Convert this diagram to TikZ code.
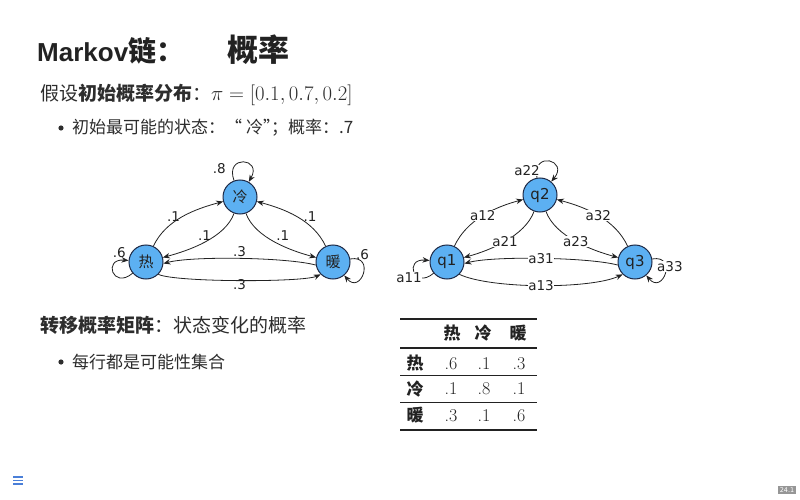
\documentclass[tikz,border=0pt]{standalone}
\usepackage{fontspec}
\usetikzlibrary{arrows.meta,positioning}
\newfontfamily\cjk{Noto Sans CJK SC}
\newfontfamily\lsans{Liberation Sans}
\newfontfamily\dvs{DejaVu Sans}
\definecolor{statefill}{RGB}{92,176,242}
\definecolor{stateline}{RGB}{30,42,70}
\definecolor{ink}{RGB}{34,34,34}
\definecolor{bodyink}{RGB}{45,45,45}
\definecolor{menublue}{RGB}{74,127,216}
\definecolor{pagegray}{RGB}{150,150,150}

\begin{document}
\begin{tikzpicture}[x=1pt,y=-1pt,
  chainstate/.style={circle, draw=stateline, line width=1pt, fill=statefill,
    minimum size=34pt, inner sep=0pt, text=ink, font=\cjk\fontsize{15}{15}\selectfont},
  qstate/.style={chainstate, font=\dvs\fontsize{15}{15}\selectfont},
  trans/.style={draw=ink, line width=0.8pt, -{Stealth[length=7pt,width=5.5pt]}},
  plab/.style={font=\dvs\fontsize{13.5}{14}\selectfont, inner sep=1pt, text=ink},
  alab/.style={plab, fill=white, inner sep=0.5pt},
  textline/.style={anchor=base west, inner sep=0pt, text=bodyink},
  hcell/.style={anchor=base, inner sep=0pt, text=ink, font=\cjk\bfseries\fontsize{17}{20}\selectfont},
  ncell/.style={anchor=base, inner sep=0pt, text=ink, font=\fontsize{18}{20}\selectfont},
  heavyrule/.style={draw=ink, line width=2pt},
  lightrule/.style={draw=ink, line width=0.8pt}
]
\useasboundingbox (0,0) rectangle (800,500);
\fill[white] (0,0) rectangle (800,500);

% headings and text lines
\node[textline, text=ink] (title) at (37,62)
  {\lsans\bfseries\fontsize{26}{30}\selectfont Markov\cjk\bfseries\fontsize{28}{30}\selectfont 链：};
\node[textline, text=ink] (title2) at (227,62) {\cjk\bfseries\fontsize{31}{31}\selectfont 概率};
\node[textline] (prior) at (40,101)
  {\cjk\fontsize{19}{22}\selectfont 假设{\bfseries 初始概率分布}：{\fontsize{21}{24}\selectfont$\pi=[0.1,0.7,0.2]$}};
\fill[bodyink] (61,128) circle (2.6);
\node[textline] (likely) at (72,133.5)
  {\cjk\fontsize{17}{20}\selectfont 初始最可能的状态：“\kern4pt 冷”\kern-9pt；概率：.7};
\node[textline] (matrix) at (40,332)
  {\cjk\fontsize{19}{22}\selectfont {\bfseries 转移概率矩阵}：状态变化的概率};
\fill[bodyink] (61,362) circle (2.6);
\node[textline] (rows) at (72,368.5)
  {\cjk\fontsize{17}{20}\selectfont 每行都是可能性集合};

% weather chain
\node[chainstate] (leng) at (240,197) {冷};
\node[chainstate] (re) at (146,262) {热};
\node[chainstate] (nuan) at (333,262) {暖};

\draw[trans] (re) to[out=65,in=195,looseness=0.9] node[plab,left=1pt] {.1} (leng);
\draw[trans] (leng) to[out=250,in=15,looseness=0.8] node[plab,above] {.1} (re);
\draw[trans] (leng) to[out=290,in=165,looseness=0.8] node[plab,above right=0pt] {.1} (nuan);
\draw[trans] (nuan) to[out=115,in=-15,looseness=0.9] node[plab,right=5pt] {.1} (leng);
\draw[trans] (nuan.190) to[out=165,in=15,looseness=0.5] node[plab,above] {.3} (re.-5);
\draw[trans] (re.-45) to[out=-25,in=-155,looseness=0.3] node[plab,below=-2pt] {.3} (nuan.-135);
\draw[trans] (leng) to[out=110,in=60,distance=28pt] node[plab,pos=0.2,left=6pt] {.8} (leng);
\draw[trans] (re) to[out=220,in=175,distance=26pt] node[plab,pos=0.85,above=2pt] {.6} (re);
\draw[trans] (nuan) to[out=10,in=-50,distance=26pt] node[plab,pos=0.1,above right=-3pt] {.6} (nuan);

% generic chain
\node[qstate] (q2) at (540,195) {q2};
\node[qstate] (q1) at (447,262) {q1};
\node[qstate] (q3) at (635,262) {q3};

\draw[trans] (q1) to[out=65,in=195,looseness=0.9] node[alab] {a12} (q2);
\draw[trans] (q2) to[out=250,in=15,looseness=0.8] node[alab] {a21} (q1);
\draw[trans] (q2) to[out=290,in=165,looseness=0.8] node[alab] {a23} (q3);
\draw[trans] (q3) to[out=115,in=-15,looseness=0.9] node[alab] {a32} (q2);
\draw[trans] (q3.190) to[out=165,in=15,looseness=0.5] node[alab] {a31} (q1.-5);
\draw[trans] (q1.-45) to[out=-25,in=-155,looseness=0.55] node[alab] {a13} (q3.-135);
\draw[trans] (q2) to[out=100,in=50,distance=28pt] node[alab,pos=0.1,anchor=east,xshift=4pt] {a22} (q2);
\draw[trans] (q1) to[out=220,in=175,distance=26pt] node[alab,pos=0.3,xshift=-10pt] {a11} (q1);
\draw[trans] (q3) to[out=10,in=-50,distance=26pt] node[alab,pos=0.35,xshift=4pt] {a33} (q3);

% transition table
\draw[heavyrule] (400,319) -- (537,319);
\draw[heavyrule, line width=1.6pt] (400,348) -- (537,348);
\draw[lightrule] (400,375) -- (537,375);
\draw[lightrule] (400,402) -- (537,402);
\draw[heavyrule] (400,430) -- (537,430);

\node[hcell] (h1) at (452,339.5) {热};
\node[hcell] (h2) at (483,339.5) {冷};
\node[hcell] (h3) at (518,339.5) {暖};

\node[hcell] (r1) at (415,369.5) {热};
\node[ncell] (c11) at (451,369) {.6};
\node[ncell] (c12) at (484,369) {.1};
\node[ncell] (c13) at (519,369) {.3};

\node[hcell] (r2) at (415,395) {冷};
\node[ncell] (c21) at (451,394.5) {.1};
\node[ncell] (c22) at (484,394.5) {.8};
\node[ncell] (c23) at (519,394.5) {.1};

\node[hcell] (r3) at (415,421.5) {暖};
\node[ncell] (c31) at (451,421) {.3};
\node[ncell] (c32) at (484,421) {.1};
\node[ncell] (c33) at (519,421) {.6};

% navigation marks
\draw[menublue, line width=1.2pt] (13,477) -- (23,477) (13,480.5) -- (23,480.5) (13,484) -- (23,484);
\node[fill=pagegray, text=white, inner sep=2pt, font=\dvs\fontsize{6.5}{6.5}\selectfont] (page) at (787,490) {24.1};
\end{tikzpicture}
\end{document}
